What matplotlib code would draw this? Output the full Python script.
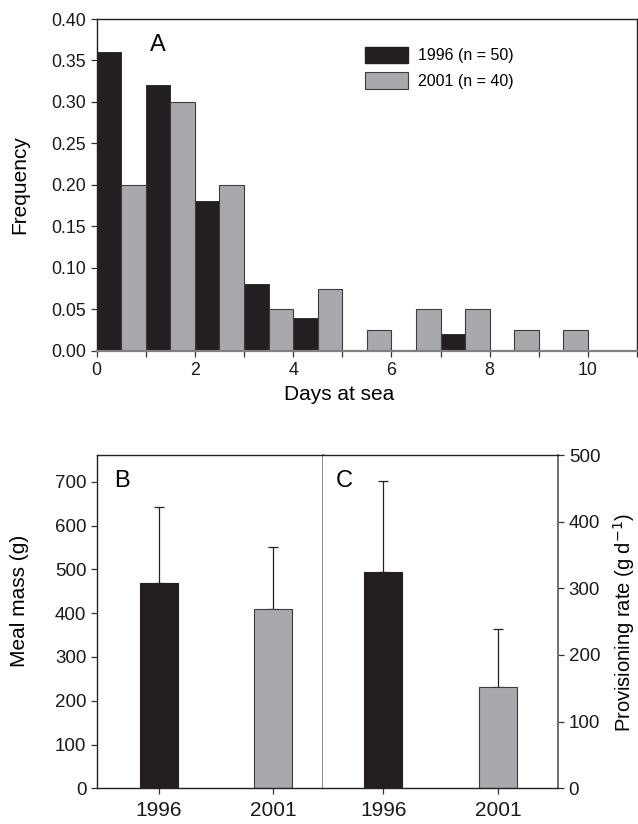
import numpy as np
import matplotlib
matplotlib.use("Agg")
import matplotlib.pyplot as plt
from matplotlib.ticker import MultipleLocator, FormatStrFormatter
from matplotlib.patches import Patch

plt.rcParams['font.family'] = ['Liberation Sans', 'DejaVu Sans']

# ---------------- data ----------------
day_bins = np.arange(0, 10)                       # start of each 1-day bin
freq_1996 = [0.36, 0.32, 0.18, 0.08, 0.04, 0.0, 0.0, 0.02, 0.0, 0.0]
freq_2001 = [0.20, 0.30, 0.20, 0.05, 0.075, 0.025, 0.05, 0.05, 0.025, 0.025]
legend_labels = ['1996 (n = 50)', '2001 (n = 40)']

years = ['1996', '2001']
meal_mass = [468, 409]
meal_mass_se = [174, 141]
prov_rate = [324, 152]
prov_rate_se = [137, 87]

BLACK = '#231f20'
GREY = '#a7a9ac'
EDGE = '#3c3c3c'

W, H = 638, 824
fig = plt.figure(figsize=(W / 100, H / 100), dpi=100)

def ax_rect(x0, y0, x1, y1):
    return [x0 / W, 1 - y1 / H, (x1 - x0) / W, (y1 - y0) / H]

# ---------------- Panel A ----------------
axA = fig.add_axes(ax_rect(96.7, 19, 637, 350.7))
axA.bar(day_bins, freq_1996, width=0.5, align='edge', color=BLACK,
        edgecolor=BLACK, linewidth=0.6, label=legend_labels[0])
axA.bar(day_bins + 0.5, freq_2001, width=0.5, align='edge', color=GREY,
        edgecolor=EDGE, linewidth=0.8, label=legend_labels[1])
axA.set_xlim(0, 11)
axA.set_ylim(0, 0.40)
axA.xaxis.set_major_locator(MultipleLocator(2))
axA.xaxis.set_minor_locator(MultipleLocator(1))
axA.yaxis.set_major_locator(MultipleLocator(0.05))
axA.yaxis.set_major_formatter(FormatStrFormatter('%.2f'))
axA.tick_params(axis='both', which='both', direction='out', length=4,
                width=0.9, labelsize=12.8, color='#333333',
                labelcolor='#1a1a1a')
axA.tick_params(axis='x', which='major', pad=4)
for s in ['left', 'top', 'right']:
    axA.spines[s].set_linewidth(1.0)
    axA.spines[s].set_color('#222222')
axA.spines['bottom'].set_color('#808080')
axA.spines['bottom'].set_linewidth(1.6)
axA.text(157.7 / W, 1 - 45 / H, 'A', transform=fig.transFigure,
         ha='center', va='center', fontsize=17)
leg = axA.legend(handles=[Patch(facecolor=BLACK, edgecolor=BLACK),
                          Patch(facecolor=GREY, edgecolor=EDGE, linewidth=0.8)],
                 labels=legend_labels, frameon=False, fontsize=11.5,
                 handlelength=2.7, handleheight=1.2, labelspacing=0.55,
                 handletextpad=0.65, loc='upper left',
                 bbox_to_anchor=(360 / W, 1 - 42 / H),
                 bbox_transform=fig.transFigure, borderaxespad=0,
                 borderpad=0.3)
fig.text(20 / W, 1 - 185 / H, 'Frequency', rotation=90, ha='center',
         va='center', fontsize=15)
fig.text(338.7 / W, 1 - 400 / H, 'Days at sea', ha='center',
         va='baseline', fontsize=15)

# ---------------- Panel B ----------------
axB = fig.add_axes(ax_rect(96.7, 455, 322.7, 788.3))
xpos = np.arange(len(years))
axB.bar(xpos, meal_mass, width=0.333, color=[BLACK, GREY],
        edgecolor=[BLACK, EDGE], linewidth=0.8, zorder=2)
axB.errorbar(xpos, meal_mass, yerr=[np.zeros(len(years)), meal_mass_se],
             fmt='none', ecolor='#222222', elinewidth=0.9, capsize=3.5,
             capthick=0.9, zorder=1)
axB.set_xlim(-0.546, 1.433)
axB.set_ylim(0, 761)
axB.set_xticks(xpos)
axB.set_xticklabels(years)
axB.yaxis.set_major_locator(MultipleLocator(100))
axB.tick_params(axis='y', direction='out', length=4, width=0.9,
                labelsize=13.5, color='#333333', labelcolor='#1a1a1a')
axB.tick_params(axis='x', direction='out', length=4, width=0.9,
                labelsize=15, pad=5, color='#333333', labelcolor='#1a1a1a')
for s in ['left', 'top', 'bottom']:
    axB.spines[s].set_linewidth(1.0)
    axB.spines[s].set_color('#222222')
axB.spines['right'].set_color('#808080')
axB.spines['right'].set_linewidth(1.3)
axB.text(122.3 / W, 1 - 480.7 / H, 'B', transform=fig.transFigure,
         ha='center', va='center', fontsize=17)
fig.text(20 / W, 1 - 601 / H, 'Meal mass (g)', rotation=90, ha='center',
         va='center', fontsize=15)

# ---------------- Panel C ----------------
axC = fig.add_axes(ax_rect(322.7, 455, 558.3, 788.3))
axC.bar(xpos, prov_rate, width=0.33, color=[BLACK, GREY],
        edgecolor=[BLACK, EDGE], linewidth=0.8, zorder=2)
axC.errorbar(xpos, prov_rate, yerr=[np.zeros(len(years)), prov_rate_se],
             fmt='none', ecolor='#222222', elinewidth=0.9, capsize=3.5,
             capthick=0.9, zorder=1)
axC.set_xlim(-0.527, 1.522)
axC.set_ylim(0, 500)
axC.set_xticks(xpos)
axC.set_xticklabels(years)
axC.yaxis.set_major_locator(MultipleLocator(100))
axC.yaxis.tick_right()
axC.tick_params(axis='y', direction='out', length=4, width=0.9,
                labelsize=13.5, color='#333333', labelcolor='#1a1a1a')
axC.tick_params(axis='x', direction='out', length=4, width=0.9,
                labelsize=15, pad=5, color='#333333', labelcolor='#1a1a1a')
axC.spines['left'].set_visible(False)
for s in ['top', 'bottom']:
    axC.spines[s].set_linewidth(1.0)
    axC.spines[s].set_color('#222222')
axC.spines['right'].set_color('#555555')
axC.spines['right'].set_linewidth(1.2)
axC.text(344 / W, 1 - 481 / H, 'C', transform=fig.transFigure,
         ha='center', va='center', fontsize=17)
fig.text(624 / W, 1 - 622 / H, 'Provisioning rate (g d$^{-1}$)',
         rotation=90, ha='center', va='center', fontsize=14.5)

fig.savefig('out.png', dpi=100)
